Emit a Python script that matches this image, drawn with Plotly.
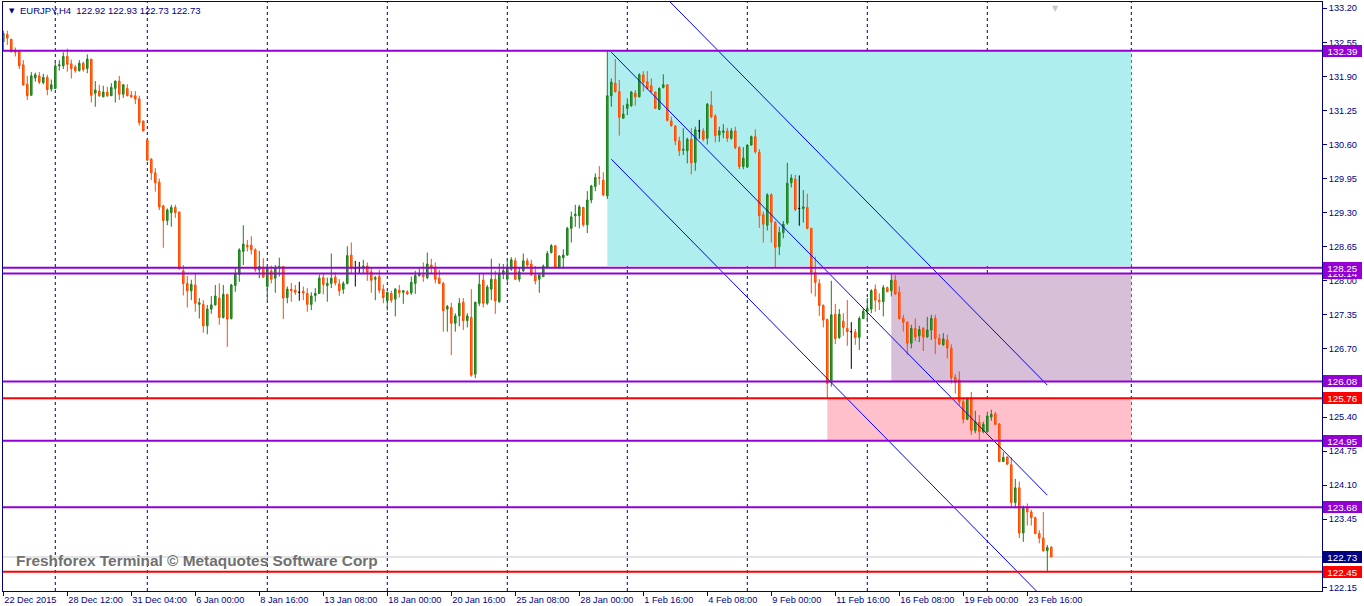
import plotly.graph_objects as go

# ---------------- data (EURJPY, H4) ----------------
opens = [
    132.56, 132.70, 132.61, 132.40, 132.38, 132.12, 131.75, 131.54, 131.87, 131.91,
    131.78, 131.88, 131.66, 131.67, 132.10, 132.10, 132.28, 132.14, 132.08, 132.01,
    132.15, 132.05, 132.23, 131.58, 131.62, 131.51, 131.60, 131.53, 131.67, 131.81,
    131.56, 131.67, 131.54, 131.53, 131.47, 131.05, 130.69, 130.32, 130.06, 129.88,
    129.43, 129.15, 129.30, 129.40, 129.31, 128.19, 127.95, 127.81, 127.92, 127.55,
    127.55, 127.14, 127.46, 127.54, 127.67, 127.30, 127.74, 127.28, 127.91, 128.12,
    128.56, 128.68, 128.68, 128.59, 128.21, 128.26, 127.89, 128.19, 128.05, 128.26,
    128.27, 127.68, 127.84, 127.82, 127.78, 127.80, 127.76, 127.55, 127.72, 127.76,
    128.06, 127.91, 127.95, 128.07, 127.94, 127.84, 127.95, 128.49, 128.24, 128.25,
    128.24, 128.28, 128.17, 128.03, 128.08, 127.84, 127.62, 127.76, 127.65, 127.82,
    127.78, 127.79, 127.77, 127.95, 128.10, 128.11, 128.06, 128.30, 128.26, 128.05,
    127.95, 127.46, 127.49, 127.19, 127.33, 127.59, 127.24, 127.30, 126.22, 127.57,
    128.01, 127.57, 127.84, 128.03, 127.60, 128.13, 128.03, 128.22, 128.38, 128.03,
    128.19, 128.38, 128.32, 128.11, 128.03, 128.08, 128.25, 128.54, 128.67, 128.25,
    128.44, 128.49, 129.00, 129.24, 129.24, 129.40, 129.07, 129.54, 129.80, 129.97,
    129.92, 129.62, 131.53, 131.77, 131.61, 131.10, 131.29, 131.34, 131.58, 131.51,
    131.93, 131.80, 131.72, 131.60, 131.27, 131.69, 131.74, 131.05, 130.95, 130.67,
    130.49, 130.48, 130.70, 130.26, 130.86, 130.86, 130.72, 131.35, 131.14, 130.78,
    130.83, 130.86, 130.72, 130.86, 130.54, 130.18, 130.17, 130.59, 130.75, 130.45,
    129.26, 129.06, 129.64, 129.11, 128.65, 128.92, 129.10, 129.87, 129.94, 129.38,
    129.38, 129.40, 129.00, 128.16, 127.95, 127.53, 127.26, 126.06, 127.36, 126.92,
    127.23, 127.09, 127.03, 127.02, 126.92, 127.28, 127.42, 127.46, 127.84, 127.63,
    127.60, 127.87, 127.81, 128.01, 127.78, 127.28, 127.21, 126.81, 127.09, 126.95,
    127.09, 126.93, 127.06, 127.28, 126.90, 126.78, 126.87, 126.71, 126.16, 126.11,
    125.69, 125.36, 125.76, 125.14, 125.30, 125.12, 125.12, 125.40, 125.46, 125.27,
    124.55, 124.64, 124.49, 123.77, 124.05, 123.19, 123.66, 123.59, 123.48, 123.18,
    123.09, 122.85, 122.92,
]
highs = [
    132.77, 132.77, 132.61, 132.45, 132.40, 132.21, 131.91, 131.98, 131.97, 131.98,
    131.95, 131.93, 131.84, 132.20, 132.21, 132.36, 132.43, 132.22, 132.12, 132.21,
    132.18, 132.32, 132.23, 131.81, 131.74, 131.72, 131.70, 131.77, 131.82, 131.91,
    131.75, 131.75, 131.62, 131.62, 131.53, 131.05, 130.69, 130.34, 130.15, 129.95,
    129.45, 129.38, 129.45, 129.45, 129.32, 128.30, 128.09, 128.02, 128.14, 127.67,
    127.63, 127.54, 127.71, 127.92, 127.95, 127.92, 127.75, 127.94, 128.24, 128.62,
    129.06, 128.78, 128.85, 128.62, 128.57, 128.43, 128.30, 128.29, 128.30, 128.44,
    128.27, 127.89, 127.96, 127.92, 127.98, 127.89, 127.86, 127.78, 127.86, 128.12,
    128.14, 128.06, 128.52, 128.16, 128.03, 127.99, 128.66, 128.73, 128.38, 128.36,
    128.40, 128.35, 128.24, 128.09, 128.21, 127.93, 127.79, 127.81, 127.86, 127.92,
    127.82, 127.82, 128.08, 128.19, 128.26, 128.35, 128.54, 128.42, 128.35, 128.21,
    127.98, 127.54, 127.58, 127.38, 127.67, 127.67, 127.38, 127.84, 127.60, 128.14,
    128.13, 127.92, 128.42, 128.19, 128.33, 128.32, 128.43, 128.45, 128.44, 128.25,
    128.52, 128.43, 128.40, 128.28, 128.14, 128.31, 128.57, 128.70, 128.68, 128.49,
    128.60, 129.03, 129.32, 129.45, 129.45, 129.41, 129.71, 129.83, 130.05, 130.19,
    130.07, 132.39, 131.86, 132.23, 131.83, 131.35, 131.48, 131.62, 131.64, 131.96,
    132.00, 132.00, 131.86, 131.61, 131.69, 131.94, 131.74, 131.13, 130.97, 130.75,
    130.91, 130.73, 130.91, 130.94, 131.07, 130.91, 131.39, 131.62, 131.18, 130.94,
    130.99, 130.92, 130.91, 130.94, 130.57, 130.55, 130.60, 130.77, 130.89, 130.51,
    129.32, 129.67, 129.67, 129.14, 129.03, 129.14, 130.25, 130.03, 130.02, 130.01,
    129.73, 129.66, 129.01, 128.46, 128.03, 127.55, 127.28, 128.00, 127.56, 127.46,
    127.38, 127.63, 127.21, 127.08, 127.32, 127.47, 127.67, 127.84, 127.93, 127.76,
    127.92, 127.89, 128.14, 128.11, 127.89, 127.35, 127.22, 127.16, 127.28, 127.14,
    127.12, 127.31, 127.35, 127.35, 126.98, 127.00, 126.97, 126.79, 126.22, 126.27,
    125.77, 125.77, 125.88, 125.52, 125.44, 125.31, 125.50, 125.54, 125.50, 125.28,
    124.73, 124.64, 124.63, 124.22, 124.17, 123.71, 123.75, 123.63, 123.50, 123.24,
    123.59, 122.96, 122.93,
]
lows = [
    132.40, 132.50, 132.36, 132.28, 132.04, 131.72, 131.45, 131.53, 131.80, 131.75,
    131.75, 131.54, 131.61, 131.66, 132.01, 132.04, 131.99, 131.86, 131.97, 131.99,
    131.99, 131.96, 131.40, 131.32, 131.51, 131.50, 131.51, 131.53, 131.40, 131.45,
    131.49, 131.52, 131.49, 131.37, 130.96, 130.85, 130.29, 129.92, 129.70, 129.35,
    128.63, 129.06, 129.03, 129.20, 128.21, 127.72, 127.49, 127.63, 127.41, 127.28,
    127.01, 126.98, 127.37, 127.53, 127.16, 127.28, 126.74, 127.26, 127.79, 127.98,
    128.30, 128.56, 128.50, 128.17, 128.05, 128.05, 127.61, 127.95, 127.77, 128.08,
    127.27, 127.57, 127.60, 127.73, 127.62, 127.63, 127.41, 127.44, 127.60, 127.75,
    127.74, 127.60, 127.86, 127.91, 127.71, 127.75, 127.93, 128.14, 127.89, 128.15,
    128.13, 128.00, 127.77, 127.63, 127.76, 127.57, 127.43, 127.58, 127.32, 127.68,
    127.56, 127.73, 127.73, 127.75, 128.08, 127.98, 128.03, 128.14, 127.95, 127.94,
    127.03, 127.03, 126.58, 127.03, 127.13, 127.06, 127.11, 126.17, 126.14, 127.52,
    127.49, 127.54, 127.63, 127.37, 127.58, 128.03, 127.98, 128.19, 128.02, 127.98,
    128.17, 128.26, 128.09, 127.93, 127.77, 128.07, 128.24, 128.52, 128.24, 128.23,
    128.23, 128.48, 128.73, 129.03, 129.00, 129.03, 128.91, 129.48, 129.71, 129.83,
    129.61, 129.56, 131.32, 131.59, 130.77, 131.10, 131.16, 131.32, 131.34, 131.50,
    131.61, 131.65, 131.59, 131.28, 131.26, 131.67, 131.04, 130.94, 130.59, 130.38,
    130.40, 130.24, 130.03, 130.10, 130.71, 130.66, 130.60, 131.10, 130.64, 130.65,
    130.72, 130.65, 130.69, 130.51, 130.13, 130.13, 130.15, 130.58, 130.43, 129.01,
    128.73, 128.96, 128.73, 128.24, 128.49, 128.81, 129.07, 129.78, 129.33, 129.05,
    129.11, 128.98, 127.76, 127.70, 127.33, 127.11, 125.76, 125.98, 126.79, 126.89,
    126.95, 126.76, 126.32, 126.78, 126.68, 127.27, 127.21, 127.38, 127.41, 127.44,
    127.32, 127.79, 127.70, 127.73, 127.26, 127.03, 126.58, 126.71, 126.85, 126.83,
    126.66, 126.91, 126.87, 126.60, 126.78, 126.76, 126.52, 126.04, 125.85, 125.63,
    125.28, 125.34, 125.06, 125.09, 124.96, 125.09, 125.10, 125.33, 125.25, 124.54,
    124.55, 124.49, 123.67, 123.66, 123.09, 123.02, 123.33, 123.33, 123.16, 122.99,
    122.83, 122.44, 122.73,
]
closes = [
    132.72, 132.63, 132.37, 132.36, 132.10, 131.74, 131.53, 131.91, 131.93, 131.79,
    131.88, 131.65, 131.74, 132.10, 132.12, 132.28, 132.13, 132.05, 132.01, 132.15,
    132.03, 132.23, 131.54, 131.64, 131.53, 131.60, 131.53, 131.69, 131.81, 131.56,
    131.74, 131.53, 131.51, 131.47, 131.02, 130.86, 130.30, 130.06, 129.87, 129.41,
    129.15, 129.35, 129.40, 129.30, 128.23, 127.95, 127.81, 127.93, 127.57, 127.58,
    127.14, 127.46, 127.54, 127.71, 127.30, 127.74, 127.27, 127.92, 128.13, 128.59,
    128.70, 128.65, 128.59, 128.21, 128.27, 128.07, 128.25, 128.03, 128.25, 128.27,
    127.67, 127.84, 127.81, 127.78, 127.78, 127.77, 127.55, 127.71, 127.76, 128.05,
    127.93, 127.95, 128.05, 127.96, 127.81, 127.95, 128.48, 128.24, 128.24, 128.25,
    128.28, 128.16, 128.01, 128.06, 127.82, 127.68, 127.78, 127.63, 127.84, 127.77,
    127.81, 127.75, 127.97, 128.10, 128.14, 128.08, 128.32, 128.26, 128.03, 127.95,
    127.43, 127.51, 127.19, 127.33, 127.57, 127.24, 127.33, 126.20, 127.59, 127.93,
    127.57, 127.88, 128.03, 127.62, 128.14, 128.19, 128.26, 128.40, 128.03, 128.17,
    128.38, 128.30, 128.12, 128.00, 128.11, 128.28, 128.52, 128.67, 128.25, 128.47,
    128.49, 129.00, 129.22, 129.27, 129.41, 129.07, 129.54, 129.81, 129.97, 129.96,
    129.64, 131.53, 131.79, 131.61, 131.12, 131.18, 131.37, 131.60, 131.51, 131.93,
    131.79, 131.67, 131.61, 131.29, 131.67, 131.74, 131.06, 130.96, 130.67, 130.48,
    130.51, 130.70, 130.25, 130.88, 130.86, 130.70, 131.37, 131.13, 130.77, 130.86,
    130.86, 130.72, 130.86, 130.54, 130.18, 130.34, 130.59, 130.75, 130.46, 129.24,
    129.08, 129.64, 129.12, 128.64, 128.92, 129.08, 129.86, 129.96, 129.36, 129.38,
    129.41, 129.00, 128.16, 127.97, 127.53, 127.25, 126.04, 127.35, 126.90, 127.36,
    127.11, 127.03, 127.03, 126.92, 127.28, 127.42, 127.47, 127.81, 127.63, 127.60,
    127.87, 127.79, 128.01, 127.75, 127.28, 127.21, 126.81, 127.09, 126.93, 127.07,
    126.93, 127.06, 127.28, 126.90, 126.79, 126.89, 126.72, 126.15, 126.06, 125.69,
    125.36, 125.76, 125.15, 125.31, 125.12, 125.26, 125.42, 125.45, 125.26, 124.55,
    124.63, 124.50, 123.77, 124.05, 123.19, 123.66, 123.59, 123.48, 123.18, 123.09,
    122.85, 122.91, 122.73,
]
bar_idx = list(range(len(closes)))

time_tick_idx = [0, 16, 32, 48, 64, 80, 96, 112, 128, 144, 160, 176, 192, 208, 224, 240, 256]
time_tick_text = ["22 Dec 2015", "28 Dec 12:00", "31 Dec 04:00", "6 Jan 00:00", "8 Jan 16:00",
                  "13 Jan 08:00", "18 Jan 00:00", "20 Jan 16:00", "25 Jan 08:00", "28 Jan 00:00",
                  "1 Feb 16:00", "4 Feb 08:00", "9 Feb 00:00", "11 Feb 16:00", "16 Feb 08:00",
                  "19 Feb 00:00", "23 Feb 16:00"]
grid_idx = [13, 36, 66, 96, 126, 156, 186, 216, 246, 282]
price_ticks = [133.20, 132.55, 131.90, 131.25, 130.60, 129.95, 129.30, 128.65, 128.00,
               127.35, 126.70, 126.05, 125.40, 124.75, 124.10, 123.45, 122.80, 122.15]

purple_levels = [132.39, 128.14, 128.25, 126.08, 124.95, 123.68]
red_levels = [125.76, 122.45]

zone_start = [151, 222, 206]
zone_end = [282, 282, 282]
zone_top = [132.39, 128.13, 125.76]
zone_bottom = [128.28, 126.08, 124.95]
zone_colors = ["#AFEEEE", "#D8BFD8", "#FFC0CB"]

channel_x = [152, 261]
channel_a = [132.36, 123.91]
channel_b = [134.46, 126.01]
channel_c = [130.32, 121.87]

symbol = "EURJPY,H4"

# ---------------- styling ----------------
NAVY = "#000080"
PURPLE = "#9400D3"
RED = "#FF0000"
FONT = "Liberation Sans"
TICK_SIZE = 9.2

fig = go.Figure()


def subset(kind):
    idx = []
    for i in bar_idx:
        o, c = opens[i], closes[i]
        if (kind == "up" and c > o) or (kind == "down" and c < o) or (kind == "doji" and c == o):
            idx.append(i)
    return (idx, [opens[i] for i in idx], [highs[i] for i in idx],
            [lows[i] for i in idx], [closes[i] for i in idx])


styles = {
    "up": ("#1C7F1C", "#2AA82A"),
    "down": ("#FF4A00", "#FF7F00"),
    "doji": ("#000000", "#000000"),
}
for kind, (lc, fc) in styles.items():
    x, o, h, l, c = subset(kind)
    side = dict(line=dict(color=lc, width=1), fillcolor=fc)
    fig.add_trace(go.Candlestick(x=x, open=o, high=h, low=l, close=c,
                                 increasing=side, decreasing=side,
                                 whiskerwidth=0, hoverinfo="skip", showlegend=False))

for ys in (channel_a, channel_b, channel_c):
    fig.add_trace(go.Scatter(x=channel_x, y=ys, mode="lines",
                             line=dict(color="#0000FF", width=1),
                             hoverinfo="skip", showlegend=False))

# zones
for x0, x1, y0, y1, col in zip(zone_start, zone_end, zone_top, zone_bottom, zone_colors):
    fig.add_shape(type="rect", xref="x", yref="y", x0=x0, x1=x1, y0=y0, y1=y1,
                  fillcolor=col, line=dict(width=0), layer="below")

# vertical dashed grid
for g in grid_idx:
    fig.add_shape(type="line", xref="x", yref="paper", x0=g, x1=g, y0=0, y1=1,
                  line=dict(color=NAVY, width=1, dash="3px,3px"), layer="below")

# current price line
last_close = closes[-1]
fig.add_shape(type="line", xref="paper", yref="y", x0=0, x1=1, y0=last_close, y1=last_close,
              line=dict(color="#C8C8C8", width=1), layer="below")

# horizontal levels
for lvl in purple_levels:
    fig.add_shape(type="line", xref="paper", yref="y", x0=0, x1=1, y0=lvl, y1=lvl,
                  line=dict(color=PURPLE, width=2), layer="above")
for lvl in red_levels:
    fig.add_shape(type="line", xref="paper", yref="y", x0=0, x1=1, y0=lvl, y1=lvl,
                  line=dict(color=RED, width=2), layer="above")

# price labels on right axis
labels = [(l, PURPLE) for l in purple_levels] + [(l, RED) for l in red_levels] + [(last_close, NAVY)]
for lvl, col in labels:
    fig.add_annotation(xref="paper", x=1, xanchor="left", xshift=1, yref="y", y=lvl,
                       text=f"{lvl:.2f}", showarrow=False, bgcolor=col,
                       font=dict(color="white", size=9.8, family=FONT),
                       width=37, height=10, borderpad=1, borderwidth=0)

# header
fig.add_annotation(xref="paper", yref="paper", x=0.0030, y=0.9852, xanchor="left", yanchor="middle",
                   text="▼", showarrow=False, font=dict(color=NAVY, size=7, family="DejaVu Sans"))
header = symbol + "\u00a0\u00a0" + " ".join(f"{v:.2f}" for v in (opens[-1], highs[-1], lows[-1], closes[-1]))
fig.add_annotation(xref="paper", yref="paper", x=0.0114, y=0.9852, xanchor="left", yanchor="middle",
                   text=header, showarrow=False, font=dict(color=NAVY, size=9.5, family=FONT))

# watermark
fig.add_annotation(xref="paper", yref="paper", x=0.0083, y=0.0526, xanchor="left", yanchor="middle",
                   text="<b>Freshforex Terminal © Metaquotes Software Corp</b>", showarrow=False,
                   font=dict(color="#707070", size=15.4, family=FONT))

# chart shift marker
fig.add_annotation(xref="x", yref="paper", x=263, y=1, yanchor="top", text="▼", showarrow=False,
                   font=dict(color="#C8C8C8", size=8, family="DejaVu Sans"))

fig.update_layout(
    width=1364, height=606,
    margin=dict(l=3, r=42, t=2, b=15, pad=0, autoexpand=False),
    paper_bgcolor="white", plot_bgcolor="white",
    showlegend=False, boxgap=0.45,
    font=dict(family=FONT, size=10, color=NAVY),
    xaxis=dict(range=[-0.075, 329.675], showgrid=False, zeroline=False,
               showline=True, linecolor=NAVY, linewidth=1, mirror=True,
               ticks="outside", ticklen=4, tickcolor=NAVY, tickangle=0,
               tickvals=time_tick_idx, ticktext=time_tick_text,
               ticklabelposition="outside right", automargin=False,
               tickfont=dict(family=FONT, size=TICK_SIZE, color=NAVY),
               rangeslider=dict(visible=False), fixedrange=True),
    yaxis=dict(range=[122.081, 133.319], side="right", showgrid=False, zeroline=False,
               showline=True, linecolor=NAVY, linewidth=1, mirror=True,
               ticks="outside", ticklen=4, tickcolor=NAVY, automargin=False,
               tickvals=price_ticks, ticktext=[f"{p:.2f}" for p in price_ticks],
               tickfont=dict(family=FONT, size=TICK_SIZE, color=NAVY), fixedrange=True),
)

fig.write_html("out.html", config={"displayModeBar": False},
               post_script="document.body.style.margin='0';document.body.style.overflow='hidden';")
